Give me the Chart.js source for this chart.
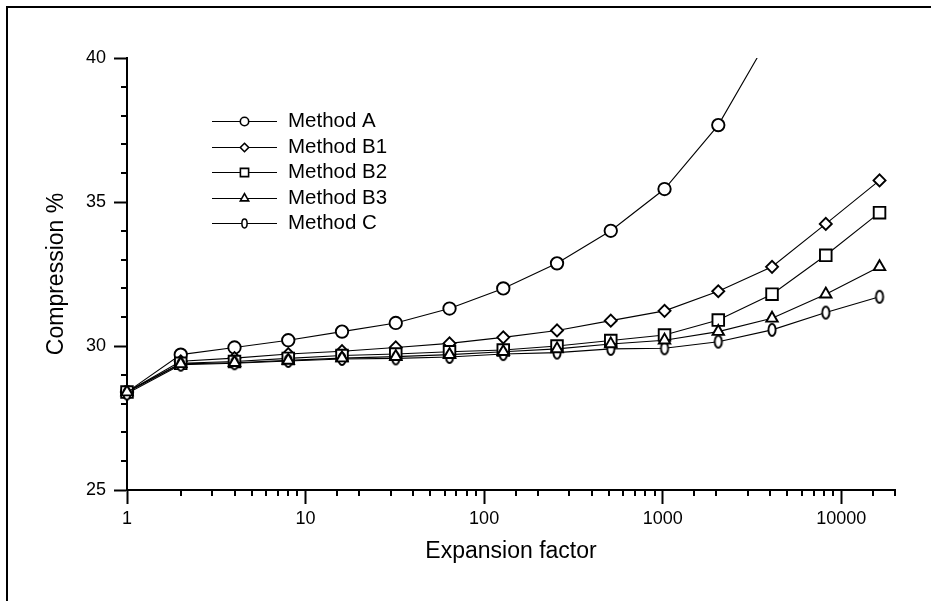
<!DOCTYPE html>
<html>
<head>
<meta charset="utf-8">
<script src="https://cdn.jsdelivr.net/npm/chart.js@4/dist/chart.umd.min.js"></script>
<style>
  html, body { margin: 0; padding: 0; background: #fff; }
  #wrap { width: 931px; height: 601px; position: relative; }
</style>
</head>
<body>
<div id="wrap"><canvas id="c" width="931" height="601"></canvas></div>
<script>
// ---- data ----
const expansionFactors = [1, 2, 4, 8, 16, 32, 64, 128, 256, 512, 1024, 2048, 4096, 8192, 16384];
const methodA  = [28.4, 29.7, 29.95, 30.2, 30.5, 30.8, 31.3, 32.0, 32.87, 34.0, 35.45, 37.67, 40.9, null, null];
const methodB1 = [28.4, 29.47, 29.58, 29.72, 29.82, 29.95, 30.09, 30.3, 30.54, 30.88, 31.22, 31.9, 32.75, 34.24, 35.75];
const methodB2 = [28.4, 29.4, 29.46, 29.57, 29.67, 29.72, 29.8, 29.86, 30.0, 30.19, 30.38, 30.9, 31.8, 33.15, 34.63];
const methodB3 = [28.4, 29.38, 29.42, 29.5, 29.58, 29.63, 29.7, 29.8, 29.9, 30.07, 30.2, 30.5, 30.96, 31.8, 32.75];
const methodC  = [28.35, 29.35, 29.4, 29.48, 29.55, 29.57, 29.62, 29.72, 29.77, 29.9, 29.92, 30.15, 30.56, 31.16, 31.71];
const seriesLabels = ['Method A', 'Method B1', 'Method B2', 'Method B3', 'Method C'];
const xTickLabels = [1, 10, 100, 1000, 10000];
const yTickLabels = [25, 30, 35, 40];

// ---- styling helpers ----
const FONT = 'Arial, "Liberation Sans", Helvetica, sans-serif';
function makeEllipse(rx, ry, lw) {
  const c = document.createElement('canvas');
  c.width = Math.ceil(2 * rx + lw + 2);
  c.height = Math.ceil(2 * ry + lw + 2);
  const g = c.getContext('2d');
  g.beginPath();
  g.ellipse(c.width / 2, c.height / 2, rx, ry, 0, 0, Math.PI * 2);
  g.fillStyle = '#fff';
  g.fill();
  g.lineWidth = lw;
  g.strokeStyle = '#000';
  g.stroke();
  return c;
}
const ellipseBig = makeEllipse(3.6, 6, 1.9);
const ellipseSmall = makeEllipse(2.6, 4.4, 1.5);

const styles = [
  { pointStyle: 'circle', radius: 6.2, legendRadius: 4.2 },
  { pointStyle: 'rectRot', radius: 6, legendRadius: 4.2 },
  { pointStyle: 'rect', radius: 8.2, legendRadius: 5.8 },
  { pointStyle: 'triangle', radius: 6.6, legendRadius: 4.8 },
  { pointStyle: ellipseBig, radius: 6, legendRadius: 4, legendImg: ellipseSmall }
];
const drawOrder = [5, 4, 3, 1, 2];
const seriesValues = [methodA, methodB1, methodB2, methodB3, methodC];

const datasets = seriesValues.map((vals, i) => ({
  label: seriesLabels[i],
  data: expansionFactors.map((x, j) => ({ x: x, y: vals[j] })).filter(p => p.y !== null),
  borderColor: '#000',
  borderWidth: 1.1,
  pointStyle: styles[i].pointStyle,
  pointRadius: styles[i].radius,
  pointHoverRadius: styles[i].radius,
  pointBackgroundColor: '#fff',
  pointBorderColor: '#000',
  pointBorderWidth: 1.9,
  tension: 0,
  fill: false,
  order: drawOrder[i],
  clip: { left: 20, right: 20, top: 0, bottom: 20 }
}));

function isPow10(v) {
  const l = Math.log10(v);
  return Math.abs(l - Math.round(l)) < 1e-9;
}

const framePlugin = {
  id: 'frame',
  beforeDraw(chart) {
    const ctx = chart.ctx;
    ctx.save();
    ctx.fillStyle = '#fff';
    ctx.fillRect(0, 0, chart.width, chart.height);
    ctx.fillStyle = '#000';
    ctx.fillRect(6, 6, chart.width - 6, 2);
    ctx.fillRect(6, 6, 2, chart.height - 6);
    ctx.restore();
  }
};

const minorTickPlugin = {
  id: 'minorTicks',
  afterDraw(chart) {
    const ctx = chart.ctx;
    const xs = chart.scales.x, ys = chart.scales.y;
    ctx.save();
    ctx.strokeStyle = '#000';
    ctx.lineWidth = 2;
    ctx.beginPath();
    xs.ticks.forEach(t => {
      if (!isPow10(t.value)) {
        const px = Math.round(xs.getPixelForValue(t.value));
        ctx.moveTo(px, xs.top);
        ctx.lineTo(px, xs.top + 6);
      }
    });
    ys.ticks.forEach(t => {
      if (!yTickLabels.includes(t.value)) {
        const py = Math.round(ys.getPixelForValue(t.value));
        ctx.moveTo(ys.right, py);
        ctx.lineTo(ys.right - 6, py);
      }
    });
    ctx.stroke();
    ctx.restore();
  }
};

const legendPlugin = {
  id: 'customLegend',
  afterDraw(chart) {
    const ctx = chart.ctx;
    const x0 = 212, x1 = 277, xm = 244.5, xt = 288, y0 = 121, dy = 25.6;
    ctx.save();
    chart.data.datasets.forEach((ds, i) => {
      const y = Math.round(y0 + dy * i) + 0.5;
      ctx.strokeStyle = '#000';
      ctx.lineWidth = 1;
      ctx.beginPath();
      ctx.moveTo(x0, y);
      ctx.lineTo(x1, y);
      ctx.stroke();
      const st = styles[i];
      if (st.legendImg) {
        ctx.drawImage(st.legendImg, xm - st.legendImg.width / 2, y - st.legendImg.height / 2);
      } else {
        ctx.fillStyle = '#fff';
        ctx.strokeStyle = '#000';
        ctx.lineWidth = 1.6;
        ctx.beginPath();
        const r = st.legendRadius;
        if (st.pointStyle === 'circle') {
          ctx.arc(xm, y, r, 0, Math.PI * 2);
        } else if (st.pointStyle === 'rectRot') {
          ctx.moveTo(xm, y - r); ctx.lineTo(xm + r, y); ctx.lineTo(xm, y + r); ctx.lineTo(xm - r, y); ctx.closePath();
        } else if (st.pointStyle === 'rect') {
          const h = r * Math.SQRT1_2;
          ctx.rect(xm - h, y - h, 2 * h, 2 * h);
        } else if (st.pointStyle === 'triangle') {
          ctx.moveTo(xm, y - r);
          ctx.lineTo(xm + r * 0.866, y + r * 0.5);
          ctx.lineTo(xm - r * 0.866, y + r * 0.5);
          ctx.closePath();
        }
        ctx.fill();
        ctx.stroke();
      }
      ctx.fillStyle = '#000';
      ctx.font = '20.5px ' + FONT;
      ctx.textBaseline = 'middle';
      ctx.textAlign = 'left';
      ctx.fillText(ds.label, xt, y);
    });
    ctx.restore();
  }
};

new Chart(document.getElementById('c'), {
  type: 'line',
  data: { datasets: datasets },
  options: {
    responsive: false,
    animation: false,
    events: [],
    layout: { padding: { top: 58, right: 36, left: 0, bottom: 0 } },
    plugins: { legend: { display: false }, tooltip: { enabled: false } },
    scales: {
      x: {
        type: 'logarithmic',
        min: 1,
        max: 20000,
        afterFit: s => { s.height = 111; },
        border: { display: true, color: '#000', width: 2 },
        grid: {
          display: true,
          drawOnChartArea: false,
          drawTicks: true,
          tickLength: 14,
          tickWidth: 2,
          tickColor: c => (c.tick && isPow10(c.tick.value)) ? '#000' : 'rgba(0,0,0,0)'
        },
        ticks: {
          autoSkip: false,
          maxRotation: 0,
          minRotation: 0,
          padding: 4,
          color: '#000',
          font: { family: FONT, size: 18 },
          callback: v => xTickLabels.includes(v) ? String(v) : ''
        },
        title: {
          display: true,
          text: 'Expansion factor',
          color: '#000',
          font: { family: FONT, size: 23 },
          padding: { top: 0, bottom: 36 }
        }
      },
      y: {
        type: 'linear',
        min: 25,
        max: 40,
        afterFit: s => { s.width = 127; },
        border: { display: true, color: '#000', width: 2 },
        grid: {
          display: true,
          drawOnChartArea: false,
          drawTicks: true,
          tickLength: 13,
          tickWidth: 2,
          tickColor: c => (c.tick && yTickLabels.includes(c.tick.value)) ? '#000' : 'rgba(0,0,0,0)'
        },
        ticks: {
          stepSize: 1,
          autoSkip: false,
          padding: 8,
          color: '#000',
          font: { family: FONT, size: 18 },
          callback: v => yTickLabels.includes(v) ? String(v) : ''
        },
        title: {
          display: true,
          text: 'Compression %',
          color: '#000',
          font: { family: FONT, size: 23 },
          padding: { top: 43, bottom: 0 }
        }
      }
    }
  },
  plugins: [framePlugin, minorTickPlugin, legendPlugin]
});
</script>
</body>
</html>
